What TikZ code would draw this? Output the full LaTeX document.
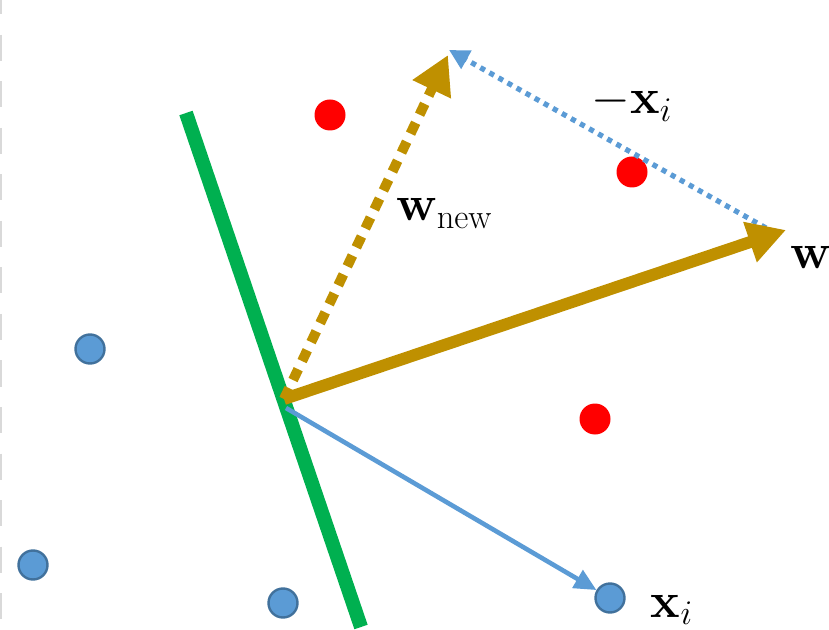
\documentclass[tikz,border=0pt]{standalone}
\usetikzlibrary{arrows.meta}
\definecolor{gold}{HTML}{BF9000}
\definecolor{ptblue}{HTML}{5B9BD5}
\definecolor{ptedge}{HTML}{41719C}
\definecolor{sepgreen}{HTML}{00B050}
\definecolor{ptred}{HTML}{FF0000}
\begin{document}
\begin{tikzpicture}[x=0.5pt,y=-0.5pt,
  bluept/.style={circle,fill=ptblue,draw=ptedge,line width=1.2pt,minimum size=14.5pt,inner sep=0pt},
  redpt/.style={circle,fill=ptred,minimum size=15.5pt,inner sep=0pt},
  lbl/.style={font=\fontsize{24}{28}\selectfont,inner sep=0pt}]
\useasboundingbox (0,0) rectangle (829,630);
% left dashed border
\draw[black!15,line width=1pt,dash pattern=on 13pt off 10.25pt,dash phase=5.75pt] (0.8,0) -- (0.8,630);
% points
\node[redpt] (r1) at (330,115) {};
\node[redpt] (r2) at (632,172) {};
\node[redpt] (r3) at (595,419) {};
\node[bluept] (b1) at (90,349) {};
\node[bluept] (b2) at (33,565) {};
\node[bluept] (b3) at (283,603) {};
\node[bluept] (xi) at (610,598) {};
% separator
\coordinate (g1) at (186,113);
\coordinate (g2) at (361,627);
\draw[sepgreen,line width=7pt] (g1) -- (g2);
% coordinates
\coordinate (O) at (284,399);
\coordinate (Ob) at (286,408);
\coordinate (wtip) at (786,230);
\coordinate (wnew) at (448,55);
\coordinate (wmid) at (766,228);
\coordinate (wnb) at (449,50);
% x_i arrow
\draw[ptblue,line width=2.3pt,-{Triangle[length=11pt,width=10pt]}] (Ob) -- (xi);
% -x_i dotted
\draw[ptblue,line width=2.6pt,dash pattern=on 2.6pt off 2.6pt,-{Triangle[length=10pt,width=10pt]}] (wmid) -- (wnb);
% w_new dashed
\draw[gold,line width=5pt,dash pattern=on 6pt off 4.5pt,-{Triangle[length=19pt,width=20pt]}] (O) -- (wnew);
% w
\draw[gold,line width=6pt,-{Triangle[length=19pt,width=20pt]}] (O) -- (wtip);
% labels
\node[lbl] (lw) at (811,257) {$\mathbf{w}$};
\node[lbl,anchor=base west] (lwn) at (396,221) {$\mathbf{w}_{\mathrm{new}}$};
\node[lbl] (lmx) at (632,103) {$-\mathbf{x}_i$};
\node[lbl] (lxi) at (672,610) {$\mathbf{x}_i$};
\end{tikzpicture}
\end{document}
